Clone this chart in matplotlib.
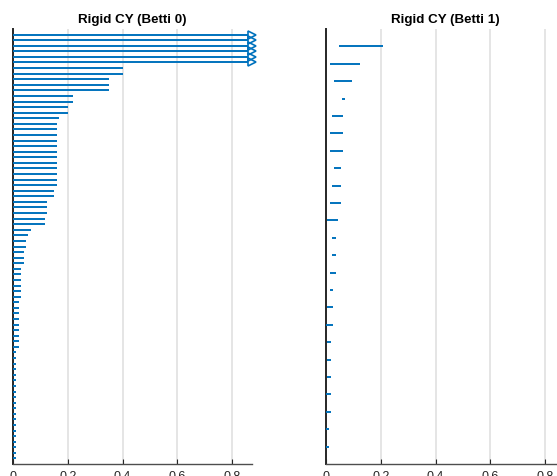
import numpy as np
import matplotlib
matplotlib.use("Agg")
import matplotlib.pyplot as plt

# Persistence intervals, Betti 0 (all born at 0; inf = never dies)
betti0_death = [np.inf] * 6 + [
    0.40, 0.40,
    0.35, 0.35, 0.35,
    0.22, 0.22,
    0.20, 0.20,
    0.168,
    0.159, 0.159, 0.159, 0.159, 0.159, 0.159,
    0.159, 0.159, 0.159, 0.159, 0.159, 0.159,
    0.150, 0.150,
    0.125, 0.125, 0.125,
    0.116, 0.116,
    0.065, 0.055,
    0.046, 0.046,
    0.039, 0.039, 0.039,
    0.028, 0.028, 0.028, 0.028, 0.028, 0.028,
    0.021, 0.021, 0.021, 0.021, 0.021, 0.021, 0.021, 0.021, 0.021,
    0.011, 0.011, 0.010, 0.012, 0.011, 0.010, 0.011, 0.010, 0.011, 0.010,
    0.011, 0.010, 0.011, 0.010, 0.011, 0.010, 0.011, 0.010, 0.011, 0.010,
]
betti0_birth = [0.0] * len(betti0_death)

# Persistence intervals, Betti 1
betti1_birth = [0.049, 0.015, 0.030, 0.057, 0.023, 0.015, 0.015, 0.030,
                0.022, 0.015, 0.005, 0.022, 0.022, 0.015, 0.015, 0.005,
                0.000, 0.002, 0.002, 0.002, 0.000, 0.000, 0.000, 0.000]
betti1_death = [0.209, 0.124, 0.096, 0.069, 0.063, 0.063, 0.063, 0.054,
                0.054, 0.054, 0.045, 0.035, 0.035, 0.035, 0.027, 0.027,
                0.027, 0.017, 0.017, 0.017, 0.017, 0.017, 0.010, 0.010]

titles = ["Rigid CY (Betti 0)", "Rigid CY (Betti 1)"]
x_max = 0.871
inf_end = 0.858
x_ticks = [0, 0.2, 0.4, 0.6, 0.8]
x_ticklabels = ["0", "0.2", "0.4", "0.6", "0.8"]

BAR = "#0072BD"
AX = "#262626"
GRID = "#e3e3e3"

plt.rcParams["font.family"] = ["Liberation Sans", "DejaVu Sans"]

fig = plt.figure(figsize=(5.57, 4.77), dpi=100)
W, H = 557, 477
axes = [
    fig.add_axes([13 / W, 12 / H, 238.7 / W, 435 / H]),
    fig.add_axes([326 / W, 12 / H, 238.7 / W, 435 / H]),
]

datasets = [(betti0_birth, betti0_death), (betti1_birth, betti1_death)]

for ax, (births, deaths), title in zip(axes, datasets, titles):
    n = len(deaths)
    ys = np.arange(1, n + 1)
    ends = np.array([inf_end if np.isinf(d) else d for d in deaths])
    ax.hlines(ys, births, ends, colors=BAR, linewidth=1.4, zorder=3)
    inf_rows = [y for y, d in zip(ys, deaths) if np.isinf(d)]
    if inf_rows:
        ax.plot([inf_end + 0.014] * len(inf_rows), inf_rows, linestyle="none",
                marker=">", markersize=6, markerfacecolor="none",
                markeredgecolor=BAR, markeredgewidth=1.2, clip_on=False, zorder=4)

    ax.set_xlim(0, x_max)
    ax.set_ylim(n + 1, 0)
    ax.set_xticks(x_ticks)
    ax.set_xticklabels(x_ticklabels)
    ax.set_yticks([])
    ax.xaxis.grid(True, color=GRID, linewidth=1.3)
    ax.set_axisbelow(True)
    ax.tick_params(axis="x", direction="in", length=3.5, width=0.8,
                   colors=AX, labelsize=9, pad=4)
    for side in ("top", "right"):
        ax.spines[side].set_visible(False)
    ax.spines["left"].set_color(AX)
    ax.spines["left"].set_linewidth(1.4)
    ax.spines["bottom"].set_color("#4d4d4d")
    ax.spines["bottom"].set_linewidth(1.0)
    ax.set_title(title, fontsize=9.6, fontweight="bold", color="#000000", pad=5)

fig.savefig("out.png", dpi=100)
